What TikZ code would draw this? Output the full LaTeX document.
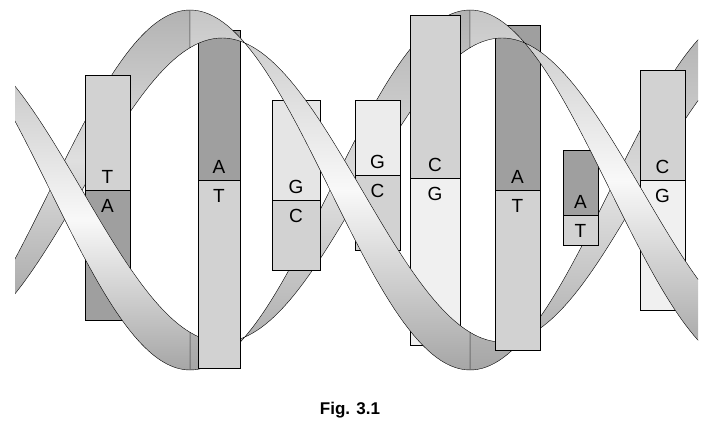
\documentclass[tikz,border=0pt]{standalone}
\usepackage{fontspec}
\setmainfont{Liberation Sans}
\tikzstyle{back} = [draw=black,top color=gray!60,bottom color=gray!70,middle color=gray!25]
\tikzstyle{front} = [draw=black,top color=gray!45,bottom color=gray!70,middle color=gray!5]
\tikzstyle{base} = [font=\fontsize{19}{20}\selectfont,inner sep=0pt]
\def\ka{0.642857}
% ribbon piece of strand A (#1 style, #2 from, #3 to)
\newcommand\ribA[3]{\path[#1] plot[domain=#2:#3,samples=60] (\x,{190-180*cos(\ka*(\x-190))})
  -- plot[domain=#3:#2,samples=60] (\x,{190-152*cos(\ka*(\x-222))}) -- cycle;}
\newcommand\ribB[3]{\path[#1] plot[domain=#2:#3,samples=60] (\x,{190+180*cos(\ka*(\x-190))})
  -- plot[domain=#3:#2,samples=60] (\x,{190+152*cos(\ka*(\x-222))}) -- cycle;}
% base pair: x left, x right, top, split, bottom, top fill, bottom fill, top/bottom letters
\newcommand\bp[9]{\filldraw[fill=#6] (#1,#3) rectangle (#2,#4);
  \filldraw[fill=#7] (#1,#4) rectangle (#2,#5);
  \node[base] at ({(#1+#2)/2},{#4-13}) {#8};
  \node[base] at ({(#1+#2)/2},{#4+16}) {#9};}
\begin{document}
\begin{tikzpicture}[x=1pt,y=-1pt]
\useasboundingbox (0,0) rectangle (703,439);
\begin{scope}
\clip (15,0) rectangle (698,385);
% back halves
\ribA{back}{0}{190}
\ribA{back}{470}{710}
\ribB{back}{190}{470}
% base pairs
\bp{85}{130}{75}{190}{320}{gray!35}{gray!75}{T}{A}
\bp{198}{240}{30}{180}{368}{gray!75}{gray!35}{A}{T}
\bp{272}{320}{100}{200}{270}{gray!20}{gray!35}{G}{C}
\bp{355}{400}{100}{175}{250}{gray!15}{gray!35}{G}{C}
\bp{410}{460}{15}{178}{345}{gray!35}{gray!12}{C}{G}
\bp{495}{540}{25}{190}{350}{gray!75}{gray!35}{A}{T}
\bp{563}{598}{150}{215}{245}{gray!75}{gray!35}{A}{T}
\bp{640}{685}{70}{180}{310}{gray!35}{gray!12}{C}{G}
% front halves
\ribA{front}{190}{470}
\ribB{front}{0}{190}
\ribB{front}{470}{710}
\end{scope}
\node[font=\fontsize{17}{18}\selectfont\bfseries] (cap) at (350,410) {Fig. 3.1};
\end{tikzpicture}
\end{document}
